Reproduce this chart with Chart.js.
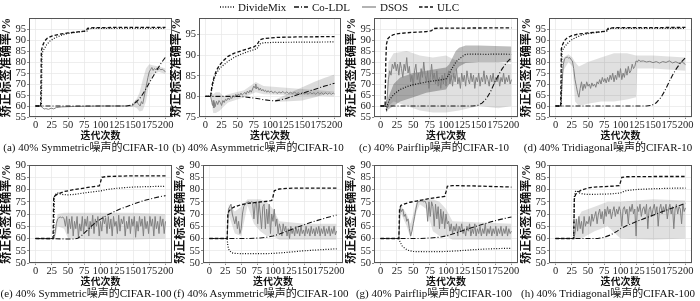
<!DOCTYPE html>
<html><head><meta charset="utf-8">
<script src="https://cdn.jsdelivr.net/npm/chart.js@4/dist/chart.umd.min.js"></script>
<style>
html,body{margin:0;padding:0;background:#fff;width:700px;height:301px;overflow:hidden;position:relative;}
canvas{position:absolute;}
.cap{position:absolute;font-family:"Liberation Serif","Noto Sans CJK SC",serif;font-size:11px;line-height:12px;color:#111;white-space:nowrap;transform:translateX(-50%);}
.lg{position:absolute;top:1px;height:12px;display:flex;align-items:center;font-family:"Liberation Serif",serif;font-size:11px;color:#111;white-space:nowrap;}
.lg svg{margin-right:4px;}
</style></head><body>
<script>
// ---------- axis ticks & labels ----------
const xTicks=[0,25,50,75,100,125,150,175,200];
const yTicksC10=[55,60,65,70,75,80,85,90,95];
const yTicksAsym=[75,80,85,90,95];
const yTicksC100=[50,55,60,65,70,75,80,85,90];
const seriesNames=['DivideMix','Co-LDL','DSOS','ULC'];
const yLabel='矫正标签准确率/%';
const xLabel='迭代次数';
const captions=['(a) 40% Symmetric噪声的CIFAR-10','(b) 40% Asymmetric噪声的CIFAR-10','(c) 40% Pairflip噪声的CIFAR-10','(d) 40% Tridiagonal噪声的CIFAR-10',
'(e) 40% Symmetric噪声的CIFAR-100','(f) 40% Asymmetric噪声的CIFAR-100','(g) 40% Pairflip噪声的CIFAR-100','(h) 40% Tridiagonal噪声的CIFAR-100'];

// ---------- (a) Symmetric CIFAR-10 ----------
const ulc_a=[[0,60],[8,60],[9,85],[11,87.5],[14,89.5],[18,90.8],[25,91.8],[35,92.5],[50,93.2],[65,93.7],[78,94.1],[80,95.3],[90,95.6],[120,95.7],[200,95.7]];
const dm_a=[[0,60],[9,60],[10,84],[13,85.8],[17,87.8],[22,89.5],[30,91],[40,92.2],[50,93],[65,93.6],[79,94],[82,95.2],[100,95.3],[200,95.3]];
const co_a=[[0,60],[140,60],[148,60.5],[155,61.8],[162,64],[168,66.8],[175,70.5],[182,74],[188,77],[194,79.8],[200,82.2]];
const dsos_a=[[0,60],[8,60],[10,59.5],[13,58.6],[16,58.8],[20,58.5],[24,59],[28,58.7],[32,59.3],[40,59.6],[60,59.8],[80,59.9],[100,60],[148,60],[150,60.2],[152,61],[155,62.5],[158,61],[161,60],[163,62],[165,61],[167,64],[169,67],[171,70],[173,73],[175,75.5],[177,76.5],[179,77.5],[181,76.2],[183,77],[185,76.5],[187,77.3],[189,76.6],[191,77],[193,76.4],[195,76.8],[197,76.2],[200,75.6]];
const dsosBand_a=[[148,59.8,60.3],[152,59.5,62],[156,59,63.5],[160,57.5,66],[165,58,72],[170,62,77],[175,70,79],[180,74.5,78.5],[190,75.5,78],[200,74.5,77]];

// ---------- (b) Asymmetric CIFAR-10 ----------
const ulc_b=[[0,80],[8,80],[10,82.5],[13,84.5],[17,86.3],[22,87.6],[28,88.7],[35,89.7],[45,90.5],[55,91],[65,91.5],[75,92],[80,92.5],[84,93.7],[90,94],[110,94.3],[140,94.4],[200,94.5]];
const dm_b=[[0,80],[8,80],[10,82],[13,84],[17,85.6],[22,86.8],[28,87.6],[35,88.5],[45,89.5],[55,90.2],[65,90.8],[75,91.3],[80,91.6],[84,92.7],[90,93],[110,93.1],[200,93.2]];
const co_b=[[0,80],[50,80],[60,79.9],[70,79.7],[80,79.5],[90,79.2],[100,79],[108,78.9],[115,79.1],[125,79.5],[135,80],[145,80.5],[155,81],[165,81.5],[175,82],[185,82.5],[200,83.2]];
const coBand_b=[[108,78.7,79.2],[130,78.8,80.8],[150,79,82.2],[170,79.8,83.6],[185,80.5,84.5],[200,81,85.3]];
const dsos_b=[[0,80],[8,80],[10,78.5],[11,77.8],[12,79],[13,77.2],[14,78.5],[15,77.5],[17,78.8],[19,78],[21,79],[23,78.5],[25,77.8],[27,79],[29,78.5],[31,79.3],[33,79],[35,79.6],[37,79.2],[39,79.8],[41,79.5],[43,80.2],[45,79.8],[47,80.5],[49,80],[51,80.6],[53,80.2],[55,80.8],[57,80.3],[59,80.6],[61,81],[63,80.5],[65,81.3],[67,80.8],[69,81.5],[71,81],[73,81.8],[75,82.5],[77,82],[78,83],[79,81.8],[81,82.3],[83,81.5],[85,82],[87,81.3],[89,81.7],[91,81.2],[93,81.5],[95,81],[97,81.4],[99,81],[102,81.3],[105,80.8],[108,81.2],[111,80.7],[114,81.1],[117,80.8],[120,81.2],[123,80.7],[126,81.1],[129,80.7],[132,81],[135,80.6],[138,81.1],[141,80.6],[144,80.9],[147,80.5],[150,81],[153,80.6],[156,80.9],[159,80.5],[162,81],[165,80.6],[168,80.9],[171,80.5],[174,81],[177,80.6],[180,80.9],[183,80.5],[186,80.9],[189,80.5],[192,80.8],[195,80.5],[198,80.8],[200,80.6]];
const dsosBand_b=[[9,79,81],[12,76,80.5],[16,76,81],[22,76.5,81],[28,77.5,80],[35,78.5,80.5],[60,79.8,81.5],[78,81,83.5],[90,80.5,82.5],[200,80,81.2]];

// ---------- (c) Pairflip CIFAR-10 ----------
const ulc_c=[[0,60],[7,60],[8,80],[9,88],[11,90.5],[14,91.5],[20,92.5],[30,93],[50,93.5],[70,93.8],[78,94.2],[81,95.2],[90,95.4],[200,95.5]];
const dm_c=[[0,60],[8,60],[9,58.5],[11,61],[14,63],[18,64.5],[23,66],[30,67.5],[40,68.8],[50,69.7],[60,70.3],[70,70.9],[80,71.4],[90,71.8],[100,72.3],[104,74],[108,76.5],[112,78.5],[116,80.3],[120,81.3],[125,82.5],[130,83.5],[140,83.6],[160,83.5],[180,83.6],[200,83.5]];
const dmBand_c=[[9,57,60],[12,58.5,64],[20,60,70],[30,62,73],[50,64,75],[70,66,76],[90,67,77],[100,67.5,77.5],[105,70,79],[110,73,82],[115,76,85],[120,78,86.5],[130,79.5,87.5],[150,80,87.5],[200,80,87]];
const co_c=[[0,60],[140,60],[148,60.2],[155,61.3],[162,63.5],[168,66.5],[174,70.5],[180,74],[186,77],[192,79.5],[200,82]];
const dsos_c=[[0,60],[8,60],[10,63],[12,72],[14,76],[16,74],[18,79],[20,77],[22,80],[24,76],[26,79],[28,74],[30,80],[32,77],[34,73],[36,79],[38,76],[40,82],[42,75],[44,78],[46,71],[48,74],[50,69],[52,76],[54,79],[56,72],[58,75],[60,70],[62,77],[64,73],[66,80],[68,74],[70,71],[72,76],[74,68],[76,73],[78,79],[80,72],[82,75],[84,70],[86,76],[88,69],[90,73],[92,68],[94,74],[96,70],[98,75],[100,69],[102,73],[104,76],[106,70],[108,74],[110,69],[112,75],[114,71],[116,77],[118,70],[120,73],[122,68],[124,75],[126,71],[128,74],[130,69],[132,76],[134,72],[136,70],[138,75],[140,71],[142,74],[144,68],[146,73],[148,71],[150,75],[152,69],[154,73],[156,71],[158,76],[160,70],[162,74],[164,72],[166,69],[168,74],[170,71],[172,75],[174,70],[176,73],[178,71],[180,74],[182,69],[184,73],[186,71],[188,75],[190,70],[192,73],[194,71],[196,74],[198,70],[200,72]];
const dsosBand_c=[[9,58,62],[12,60,80],[20,62,84],[40,60,85],[60,58,83],[80,57,82],[100,57,83],[120,58,80],[150,60,80],[180,59,80],[200,60,79]];

// ---------- (d) Tridiagonal CIFAR-10 ----------
const ulc_d=[[0,60],[8,60],[9,86],[11,88],[14,89.8],[18,91],[25,92],[35,92.7],[50,93.2],[65,93.6],[78,94],[81,95.3],[90,95.6],[200,95.7]];
const dm_d=[[0,60],[9,60],[10,85],[13,86.5],[17,88],[22,89.5],[30,91],[40,92.2],[50,92.9],[65,93.5],[79,94],[82,95.2],[100,95.3],[200,95.3]];
const co_d=[[0,60],[140,60],[148,60.3],[155,61.5],[162,63.8],[168,66.8],[174,70.5],[180,74],[186,77],[192,79.5],[200,82]];
const dsos_d=[[0,60],[8,60],[10,70],[12,79],[14,81.5],[16,82],[18,82.3],[20,81.8],[22,82],[24,81],[26,80.5],[28,77],[30,72],[32,69],[34,66],[36,64],[38,68],[40,71],[42,67],[44,70],[46,68],[48,71],[50,69],[52,70],[54,68],[56,70.5],[58,69],[60,70],[62,68.5],[64,71],[66,70],[68,72],[70,70],[72,73],[74,71],[76,72.5],[78,70.5],[80,73],[82,71],[84,74],[86,72],[88,75],[90,71],[92,74],[94,72],[96,76],[98,73],[100,77],[102,72],[104,75],[106,73],[108,77],[110,74],[112,78],[114,75],[116,76],[118,79],[120,77],[122,78],[124,80.5],[126,80],[128,81],[130,80.3],[135,80.5],[140,80],[145,80.3],[150,79.7],[155,80.2],[160,79.5],[165,80.2],[170,79.8],[175,80.5],[180,79.6],[185,80.1],[190,79.4],[195,80],[200,78.8]];
const dsosBand_d=[[9,59,62],[12,76,82],[20,80,83.5],[26,78,82],[30,62,80],[36,60,78],[50,61,80],[70,62,82],[90,62,84],[110,63,84],[124,64,83],[126,77,83],[150,77,83],[200,76,82]];

// ---------- (e) Symmetric CIFAR-100 ----------
const ulc_e=[[0,60],[27,60],[28,77],[30,77.5],[35,78.3],[45,79.2],[60,80],[75,80.6],[90,81.2],[98,81.5],[100,83],[102,85],[110,85.3],[150,85.6],[200,85.6]];
const dm_e=[[0,60],[28,60],[29,77],[32,78.5],[35,78.5],[40,78],[50,77.8],[60,78],[75,78.6],[90,79.1],[100,79.4],[110,80],[125,80.5],[150,81],[175,81.2],[200,81.3]];
const co_e=[[0,60],[50,59.8],[60,59.8],[65,60.1],[70,61],[75,62.2],[80,63.5],[85,64.8],[90,66],[95,67],[100,67.9],[110,69.5],[120,70.8],[130,72],[140,73],[150,74],[160,74.9],[170,75.7],[180,76.4],[190,77],[200,77.5]];
const dsos_e=[[0,60],[28,60],[30,62],[32,66],[34,68],[36,68.5],[38,68.8],[40,68.5],[42,68.8],[44,68],[46,65],[48,69],[50,62],[52,68],[54,64],[56,69],[58,61],[60,67],[62,64],[64,69],[66,60.5],[68,66],[70,63],[72,69],[74,62],[76,68],[78,65],[80,69],[82,61],[84,67],[86,64],[88,69.5],[90,62],[92,68],[94,65],[96,69],[98,61],[100,67],[102,63],[104,69],[106,66],[108,68.5],[110,62],[112,69],[114,64],[116,68],[118,61],[120,69],[122,65],[124,67],[126,62],[128,69.5],[130,63],[132,68],[134,66],[136,69],[138,61],[140,67],[142,64],[144,69],[146,62],[148,68],[150,65],[152,69],[154,60.5],[156,67],[158,63],[160,69],[162,65],[164,68],[166,61],[168,69],[170,64],[172,67],[174,62],[176,69],[178,65],[180,68],[182,61],[184,69],[186,64],[188,67],[190,62],[192,69],[194,65],[196,68],[198,62],[200,67]];
const dsosBand_e=[[30,60,64],[34,65,70],[44,64,70.5],[50,60,70.5],[100,59.5,70.5],[150,59.5,70.5],[200,60,70]];

// ---------- (f) Asymmetric CIFAR-100 ----------
const ulc_f=[[0,60],[28,60],[29,70],[31,71.3],[35,72.3],[40,73],[50,73.8],[60,74.3],[75,74.8],[90,75.2],[98,75.5],[100,77],[102,79.5],[110,80.2],[125,80.5],[150,80.6],[200,80.6]];
const dm_f=[[0,60],[28,60],[29,57],[31,55.2],[35,54.2],[40,53.9],[60,53.8],[80,53.8],[100,53.9],[120,54.3],[140,54.8],[160,55.2],[180,55.5],[200,55.8]];
const co_f=[[0,60],[60,60],[80,60.2],[90,60.5],[100,61],[110,61.8],[120,62.8],[130,63.8],[140,64.8],[150,65.7],[160,66.6],[170,67.4],[180,68.2],[190,68.9],[200,69.6]];
const dsos_f=[[0,60],[28,60],[30,72],[32,73],[34,74],[36,70],[38,68],[40,66],[42,69],[44,64],[46,67],[48,62],[50,64],[52,70],[54,73],[56,74],[58,74.5],[60,74.8],[62,75],[64,74.5],[66,75],[68,74.8],[70,68],[72,74],[74,75],[76,66],[78,75],[80,70],[82,64],[84,73],[86,74],[88,64],[90,72],[92,66],[94,74],[96,62],[98,70],[100,67],[102,72],[104,65],[106,68],[108,62],[110,66],[112,64],[114,61],[116,66],[118,63],[120,65],[122,61],[124,64],[126,60],[128,65],[130,62],[132,64],[134,61],[136,65],[138,62],[140,64],[142,61],[144,65],[146,62],[148,63.5],[150,61],[152,65],[154,62],[156,64],[158,61],[160,65],[162,62],[164,64],[166,61],[168,64.5],[170,62],[172,65],[174,61],[176,64],[178,62],[180,65],[182,61],[184,64],[186,62],[188,65],[190,61],[192,64],[194,62],[196,65],[198,61.5],[200,63]];
const dsosBand_f=[[30,70,74],[40,62,71],[50,61,73],[60,73.5,76],[70,66,76],[80,63,76],[90,61,75],[100,61,72],[110,59.5,67],[150,59.5,66],[200,59.5,66]];

// ---------- (g) Pairflip CIFAR-100 ----------
const ulc_g=[[0,60],[28,60],[29,72],[31,73.5],[35,74],[45,74.8],[55,75.3],[65,75.8],[75,76.3],[90,76.9],[98,77.2],[100,79],[102,81.3],[110,81.6],[150,81.4],[200,81]];
const dm_g=[[0,60],[28,60],[30,58.5],[33,57],[37,56],[42,55.2],[50,54.7],[70,54.6],[100,54.7],[120,55],[140,55.4],[160,55.7],[180,55.9],[200,56]];
const co_g=[[0,60],[60,60],[75,60.2],[90,60.5],[100,61],[110,61.8],[120,62.7],[130,63.6],[140,64.5],[150,65.3],[160,66.1],[170,66.9],[180,67.6],[190,68.2],[200,68.8]];
const dsos_g=[[0,60],[28,60],[30,72.5],[32,71],[34,72],[36,69],[38,70],[40,67],[42,68],[44,64],[46,61],[48,63],[50,66],[52,69],[54,72],[56,74.5],[58,75],[60,75.2],[62,75.3],[64,75.2],[66,75],[68,75.3],[70,74],[72,67],[74,75],[76,69],[78,75],[80,73],[82,65],[84,74],[86,68],[88,73],[90,64],[92,72],[94,66],[96,71],[98,64],[100,70],[102,66],[104,67],[106,63],[108,66],[110,62],[112,65],[114,63],[116,66],[118,61],[120,65],[122,63],[124,66],[126,62],[128,64],[130,61],[132,65],[134,63],[136,66],[138,61],[140,64],[142,62],[144,66],[146,61],[148,64],[150,62],[152,65],[154,61],[156,64],[158,62],[160,66],[162,61],[164,64],[166,62],[168,65],[170,61],[172,64],[174,62],[176,65],[178,61],[180,64],[182,62],[184,65],[186,61],[188,64],[190,62],[192,65],[194,61],[196,64],[198,62],[200,63]];
const dsosBand_g=[[30,71,74],[40,65,70],[46,60,66],[55,71,75],[60,74,76],[70,72,76],[80,63,76],[90,61,75],[100,61,72],[110,59.5,67],[200,59.5,66]];

// ---------- (h) Tridiagonal CIFAR-100 ----------
const ulc_h=[[0,60],[28,60],[29,76],[31,78],[35,79],[40,79.8],[50,80.6],[60,81],[75,81.2],[90,81.4],[98,81.6],[100,83],[102,85],[110,85.2],[150,85.3],[200,85.3]];
const dm_h=[[0,60],[28,60],[29,77],[31,79.5],[33,79.3],[37,78.6],[42,78.2],[50,78],[75,78.1],[90,78.3],[100,78.6],[105,79.2],[110,79.6],[125,80],[150,80.3],[175,80.5],[200,80.6]];
const co_h=[[0,60],[65,60],[75,60.5],[85,61.5],[95,63],[100,64],[110,65.3],[125,67],[140,68.5],[150,69.5],[165,71],[175,72],[190,73.4],[200,74.4]];
const dsos_h=[[0,60],[28,60],[30,62],[32,68],[34,63],[36,69],[38,64],[40,67],[42,62],[44,69],[46,65],[48,67],[50,66],[52,69],[54,65],[56,70],[58,67],[60,69],[62,71],[64,66],[66,70],[68,72],[70,68],[72,71],[74,66],[76,72],[78,69],[80,73],[82,70],[84,72],[86,68],[88,71],[90,73],[92,69],[94,72],[96,70],[98,73],[100,71],[102,65],[104,72],[106,73],[108,70],[110,72],[112,66],[114,73],[116,71],[118,74],[120,70],[122,72],[124,61],[126,73],[128,71],[130,74],[132,69],[134,72],[136,73],[138,70],[140,74],[142,64],[144,72],[146,73],[148,69],[150,72],[152,74],[154,70],[156,73],[158,65],[160,72],[162,74],[164,70],[166,73],[168,71],[170,74],[172,68],[174,72],[176,74],[178,70],[180,73],[182,64],[184,72],[186,74],[188,70],[190,73],[192,72],[194,66],[196,74],[198,71],[200,72.5]];
const dsosBand_h=[[30,60,66],[40,60,71],[60,63,73],[80,65,75],[100,60,75],[150,59.5,76],[200,60,75.5]];

// ---------- panel assembly ----------
const LIGHT='rgba(0,0,0,0.12)', MID='rgba(0,0,0,0.26)', COB='rgba(0,0,0,0.14)';
const panels=[
 {dm:dm_a,co:co_a,dsos:dsos_a,ulc:ulc_a,bands:[[dsosBand_a,LIGHT]],yTicks:yTicksC10,yMin:55,yMax:100},
 {dm:dm_b,co:co_b,dsos:dsos_b,ulc:ulc_b,bands:[[coBand_b,COB],[dsosBand_b,LIGHT]],yTicks:yTicksAsym,yMin:75,yMax:99},
 {dm:dm_c,co:co_c,dsos:dsos_c,ulc:ulc_c,bands:[[dmBand_c,MID],[dsosBand_c,LIGHT]],yTicks:yTicksC10,yMin:55,yMax:100},
 {dm:dm_d,co:co_d,dsos:dsos_d,ulc:ulc_d,bands:[[dsosBand_d,LIGHT]],yTicks:yTicksC10,yMin:55,yMax:100},
 {dm:dm_e,co:co_e,dsos:dsos_e,ulc:ulc_e,bands:[[dsosBand_e,LIGHT]],yTicks:yTicksC100,yMin:50,yMax:90},
 {dm:dm_f,co:co_f,dsos:dsos_f,ulc:ulc_f,bands:[[dsosBand_f,LIGHT]],yTicks:yTicksC100,yMin:50,yMax:90},
 {dm:dm_g,co:co_g,dsos:dsos_g,ulc:ulc_g,bands:[[dsosBand_g,LIGHT]],yTicks:yTicksC100,yMin:50,yMax:90},
 {dm:dm_h,co:co_h,dsos:dsos_h,ulc:ulc_h,bands:[[dsosBand_h,LIGHT]],yTicks:yTicksC100,yMin:50,yMax:90}
];
// plot-area boxes [left, top, right, bottom] and caption centres
const boxes=[[29,18,172,117],[199,18,341,117],[374,18,518,117],[549,18,692,117],
             [29,165,172,263],[203,165,343,263],[374,165,518,263],[549,165,692,263]];
const capX=[86,258,434,608,86,261,434,608];

const FONT="'Liberation Serif','Times New Roman','Noto Sans CJK SC',serif";
const styles={
 DivideMix:{color:'#111',dash:[1,1.6],w:1.2},
 'Co-LDL':{color:'#111',dash:[5,2,1,2],w:1.1},
 DSOS:{color:'#808080',dash:[],w:1},
 ULC:{color:'#111',dash:[3.5,2],w:1.3}
};
const framePlugin={id:'frame',afterDatasetsDraw(c){const {ctx,chartArea:a}=c;ctx.save();ctx.strokeStyle='#555';ctx.lineWidth=1;
 ctx.strokeRect(Math.round(a.left)+0.5,Math.round(a.top)+0.5,Math.round(a.right-a.left)-1,Math.round(a.bottom-a.top)-1);ctx.restore();}};

const PADL=29,PADT=10,PADR=8,AXH=25;
const pts=arr=>arr.map(([x,y])=>({x,y}));
function line(data,name){const s=styles[name];return {data:pts(data),borderColor:s.color,borderDash:s.dash,borderWidth:s.w,pointRadius:0,fill:false,tension:0};}

panels.forEach((p,i)=>{
 const [cl,ct,cr,cb]=boxes[i];
 const cv=document.createElement('canvas');
 cv.width=cr-cl+PADL+PADR; cv.height=cb-ct+PADT+AXH;
 cv.style.left=(cl-PADL)+'px'; cv.style.top=(ct-PADT)+'px';
 document.body.appendChild(cv);
 const ds=[line(p.ulc,'ULC'),line(p.dm,'DivideMix'),line(p.co,'Co-LDL'),line(p.dsos,'DSOS')];
 p.bands.forEach(([b,col])=>{
   ds.push({data:b.map(([x,l])=>({x,y:l})),borderWidth:0,borderColor:'rgba(0,0,0,0)',pointRadius:0,fill:false});
   ds.push({data:b.map(([x,l,h])=>({x,y:h})),borderWidth:0,borderColor:'rgba(0,0,0,0)',pointRadius:0,fill:'-1',backgroundColor:col});
 });
 new Chart(cv,{type:'line',data:{datasets:ds},plugins:[framePlugin],
  options:{responsive:false,animation:false,devicePixelRatio:1,
   layout:{padding:{left:0,top:PADT,right:PADR,bottom:0}},
   plugins:{legend:{display:false},tooltip:{enabled:false}},
   scales:{
    x:{type:'linear',min:-10,max:210,
       afterBuildTicks:s=>{s.ticks=xTicks.map(v=>({value:v}));},
       afterFit:s=>{s.height=AXH;},
       ticks:{autoSkip:false,maxRotation:0,padding:0,font:{family:FONT,size:10.5},color:'#222'},
       grid:{color:'#e6e6e6',lineWidth:0.7,drawTicks:true,tickLength:2,tickColor:'#555'},
       border:{display:false},
       title:{display:true,text:xLabel,padding:0,font:{family:FONT,size:10,weight:'bold'},color:'#111'}},
    y:{type:'linear',min:p.yMin,max:p.yMax,
       afterBuildTicks:s=>{s.ticks=p.yTicks.map(v=>({value:v}));},
       afterFit:s=>{s.width=PADL;},
       ticks:{autoSkip:false,padding:1,font:{family:FONT,size:10.5},color:'#222'},
       grid:{color:'#e6e6e6',lineWidth:0.7,drawTicks:true,tickLength:2,tickColor:'#555'},
       border:{display:false},
       title:{display:true,text:yLabel,padding:0,font:{family:FONT,size:12,weight:'bold'},color:'#111'}}
   }}});
 const cap=document.createElement('div');cap.className='cap';cap.textContent=captions[i];
 cap.style.left=capX[i]+'px';cap.style.top=(cb+24)+'px';document.body.appendChild(cap);
});

// ---------- legend ----------
const legendX=[220,294,362,419];
seriesNames.forEach((n,i)=>{
 const s=styles[n];const d=document.createElement('div');d.className='lg';d.style.left=legendX[i]+'px';
 d.innerHTML=`<svg width="14" height="4"><line x1="0" y1="2" x2="14" y2="2" stroke="${s.color}" stroke-width="${s.w+0.2}" stroke-dasharray="${s.dash.join(' ')||'none'}"/></svg>`;
 const t=document.createElement('span');t.textContent=n;d.appendChild(t);document.body.appendChild(d);
});
</script>
</body></html>
